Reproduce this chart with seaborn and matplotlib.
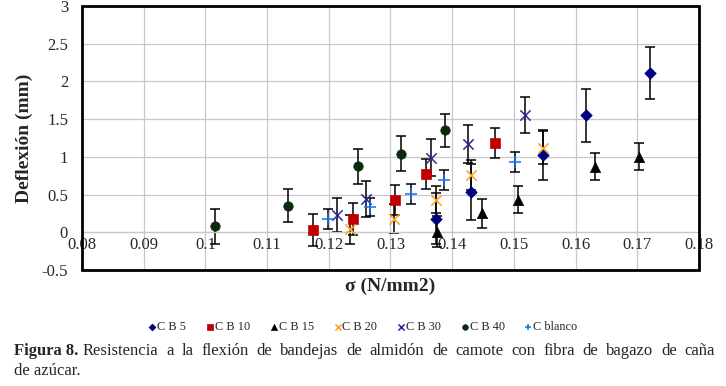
import numpy as np
import pandas as pd
import matplotlib
matplotlib.use("Agg")
import matplotlib.pyplot as plt
import seaborn as sns
from matplotlib.patches import Rectangle

# Data: sigma (N/mm2), deflexion (mm), error (mm)
cb5_x = [0.1374, 0.1430, 0.1547, 0.1617, 0.1721]
cb5_y = [0.18, 0.53, 1.02, 1.55, 2.11]
cb5_err = [0.34, 0.37, 0.33, 0.35, 0.34]

cb10_x = [0.1174, 0.1239, 0.1307, 0.1358, 0.1470]
cb10_y = [0.03, 0.18, 0.43, 0.77, 1.18]
cb10_err = [0.21, 0.21, 0.20, 0.20, 0.20]

cb15_x = [0.1375, 0.1448, 0.1507, 0.1631, 0.1703]
cb15_y = [0.01, 0.25, 0.43, 0.87, 1.00]
cb15_err = [0.20, 0.19, 0.18, 0.18, 0.18]

cb20_x = [0.1234, 0.1305, 0.1374, 0.1430, 0.1547]
cb20_y = [0.04, 0.18, 0.43, 0.76, 1.12]
cb20_err = [0.19, 0.19, 0.18, 0.20, 0.22]

cb30_x = [0.1213, 0.1260, 0.1366, 0.1426, 0.1518]
cb30_y = [0.23, 0.44, 0.99, 1.17, 1.55]
cb30_err = [0.23, 0.24, 0.25, 0.25, 0.24]

cb40_x = [0.1016, 0.1134, 0.1248, 0.1317, 0.1389]
cb40_y = [0.08, 0.35, 0.875, 1.04, 1.35]
cb40_err = [0.23, 0.22, 0.23, 0.23, 0.22]

blanco_x = [0.1198, 0.1266, 0.1333, 0.1386, 0.1501]
blanco_y = [0.18, 0.33, 0.51, 0.69, 0.93]
blanco_err = [0.13, 0.12, 0.13, 0.13, 0.13]

series_names = ["C B 5", "C B 10", "C B 15", "C B 20", "C B 30", "C B 40", "C blanco"]
x_ticks = [0.08, 0.09, 0.1, 0.11, 0.12, 0.13, 0.14, 0.15, 0.16, 0.17, 0.18]
x_tick_labels = ["0.08", "0.09", "0.1", "0.11", "0.12", "0.13", "0.14", "0.15", "0.16", "0.17", "0.18"]
y_ticks = [-0.5, 0, 0.5, 1, 1.5, 2, 2.5, 3]
y_tick_labels = ["-0.5", "0", "0.5", "1", "1.5", "2", "2.5", "3"]

caption_bold = "Figura 8."
caption_line1 = "Resistencia a la flexión de bandejas de almidón de camote con fibra de bagazo de caña"
caption_line2 = "de azúcar."

frames = []
for name, xs, ys, es in zip(series_names,
                            [cb5_x, cb10_x, cb15_x, cb20_x, cb30_x, cb40_x, blanco_x],
                            [cb5_y, cb10_y, cb15_y, cb20_y, cb30_y, cb40_y, blanco_y],
                            [cb5_err, cb10_err, cb15_err, cb20_err, cb30_err, cb40_err, blanco_err]):
    frames.append(pd.DataFrame({"sigma": xs, "deflexion": ys, "err": es, "serie": name}))
df = pd.concat(frames, ignore_index=True)

# marker, colour, size for each series
styles = {
    "C B 5": ("D", "#000080", 34),
    "C B 10": ("s", "#c00000", 50),
    "C B 15": ("^", "#000000", 55),
    "C B 20": ("x", "#ffa020", 55),
    "C B 30": ("x", "#2a2aa0", 55),
    "C B 40": ("o", "#0b2a0b", 46),
    "C blanco": ("+", "#1a6ee8", 70),
}

sns.set_style("white")
plt.rcParams["font.family"] = ["Liberation Serif", "DejaVu Serif"]

fig = plt.figure(figsize=(7.26, 3.86), dpi=100)
ax = fig.add_axes([0.1129, 0.3005, 0.8499, 0.6840])

# error bars first, markers above
for name in series_names:
    sub = df[df["serie"] == name]
    ax.errorbar(sub["sigma"], sub["deflexion"], yerr=sub["err"], fmt="none",
                ecolor="black", elinewidth=1.1, capsize=3.5, capthick=1.1, zorder=2)

for name in series_names:
    sub = df[df["serie"] == name]
    marker, color, size = styles[name]
    if marker in ("x", "+"):
        sns.scatterplot(data=sub, x="sigma", y="deflexion", marker=marker, color=color,
                        s=size, linewidth=1.1, ax=ax, label=name, zorder=3)
    else:
        sns.scatterplot(data=sub, x="sigma", y="deflexion", marker=marker, color=color,
                        s=size, edgecolor=color, linewidth=0.5, ax=ax, label=name, zorder=3)

ax.set_xlim(0.08, 0.18)
ax.set_ylim(-0.5, 3)
ax.set_xticks(x_ticks)
ax.set_xticklabels(x_tick_labels)
ax.set_yticks(y_ticks)
ax.set_yticklabels(y_tick_labels)
ax.grid(True, color="#c8c8c8", linewidth=0.9)
ax.set_axisbelow(True)

# x axis crosses at y = 0, frame drawn separately
for side in ["top", "right", "left"]:
    ax.spines[side].set_visible(False)
ax.spines["bottom"].set_position(("data", 0))
ax.spines["bottom"].set_color("#c8c8c8")
ax.spines["bottom"].set_linewidth(0.9)
ax.add_patch(Rectangle((0, 0), 1, 1, transform=ax.transAxes, fill=False,
                       edgecolor="black", linewidth=2, zorder=5, clip_on=False))
ax.tick_params(axis="both", length=0, labelsize=12)
ax.tick_params(axis="x", pad=3.5)
ax.tick_params(axis="y", pad=10)

ax.set_xlabel("")
ax.set_ylabel("Deflexión (mm)", fontsize=14, fontweight="bold", labelpad=6)
fig.text(0.537, 0.259, "σ (N/mm2)", ha="center", va="center", fontsize=14, fontweight="bold")

handles, labels = ax.get_legend_handles_labels()
leg = fig.legend(handles, labels, loc="center", bbox_to_anchor=(0.50, 0.152), ncol=7,
                 frameon=False, fontsize=8.8, handlelength=0.6, handletextpad=0.1,
                 columnspacing=1.65, markerscale=0.6)
ax.get_legend().remove()

# caption, first line justified between 14 px and 715 px
fig.text(14 / 726, 0.080, caption_bold, fontsize=12, fontweight="bold", ha="left", va="baseline")
renderer = fig.canvas.get_renderer()
words = caption_line1.split()
word_texts = [fig.text(0, 0.080, w, fontsize=12, ha="left", va="baseline") for w in words]
widths = [t.get_window_extent(renderer).width for t in word_texts]
start_px, end_px = 83.0, 715.0
gap = (end_px - start_px - sum(widths)) / (len(words) - 1)
pos = start_px
for t, w in zip(word_texts, widths):
    t.set_x(pos / 726)
    pos += w + gap
fig.text(14 / 726, 0.028, caption_line2, fontsize=12, ha="left", va="baseline")

fig.savefig("out.png", dpi=100)
